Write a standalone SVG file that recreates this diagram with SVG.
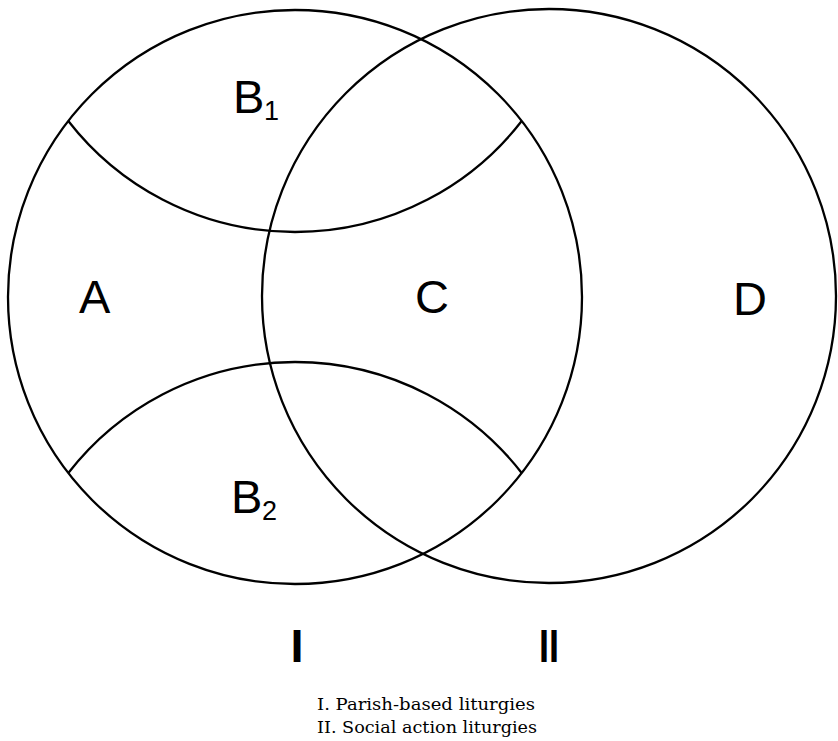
<svg xmlns="http://www.w3.org/2000/svg" width="838" height="741" viewBox="0 0 838 741">
<style>
.ln{fill:none;stroke:#000;stroke-width:2.3}
.lb{font-family:"Liberation Sans",Arial,sans-serif;fill:#000}
.big{font-size:47px}
.sub{font-size:27px}
.cap{font-family:"DejaVu Serif","Liberation Serif",serif;font-size:16.5px;fill:#000}
</style>
<rect width="838" height="741" fill="#fff"/>
<g id="connectors">
<path class="ln" d="M68.3,121 A287,287 0 0 0 521.7,121"/>
<path class="ln" d="M68.3,473 A287,287 0 0 1 521.7,473"/>
</g>
<g id="circle-I"><circle class="ln" cx="295" cy="297" r="287"/></g>
<g id="circle-II"><circle class="ln" cx="549" cy="296" r="287"/></g>
<g id="B1"><text class="lb big" x="233" y="113">B</text><text class="lb sub" x="264" y="120">1</text></g>
<g id="A"><text class="lb big" x="79" y="313">A</text></g>
<g id="C"><text class="lb big" x="415" y="313">C</text></g>
<g id="D"><text class="lb big" x="733" y="315">D</text></g>
<g id="B2"><text class="lb big" x="231" y="513">B</text><text class="lb sub" x="262" y="520">2</text></g>
<g id="I"><text class="lb big" x="297" y="662" text-anchor="middle" font-weight="bold">I</text></g>
<g id="II"><text class="lb big" x="549" y="662" text-anchor="middle" font-weight="bold" textLength="20" lengthAdjust="spacingAndGlyphs">II</text></g>
<g id="caption">
<text class="cap" x="317" y="710" textLength="218" lengthAdjust="spacingAndGlyphs">I. Parish-based liturgies</text>
<text class="cap" x="317" y="733" textLength="220" lengthAdjust="spacingAndGlyphs">II. Social action liturgies</text>
</g>
</svg>
